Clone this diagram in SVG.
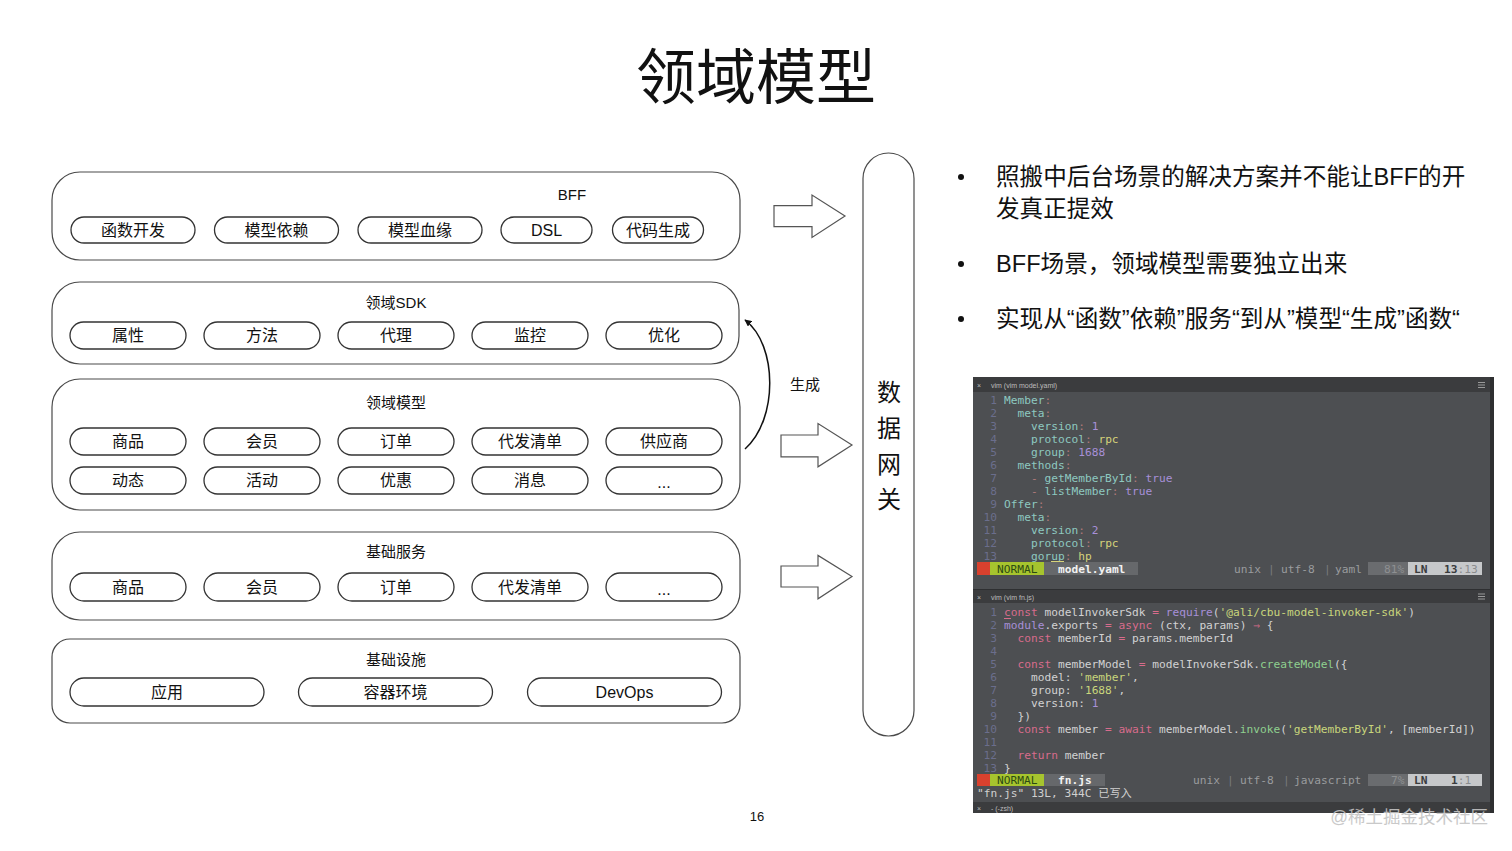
<svg xmlns="http://www.w3.org/2000/svg" width="1512" height="851" viewBox="0 0 1512 851">
<style>
.box{fill:#fff;stroke:#4a4a4a;stroke-width:1.2}
.pill{fill:#fff;stroke:#333;stroke-width:1.3}
.t{font-family:"Liberation Sans","Noto Sans CJK SC",sans-serif;fill:#111;text-anchor:middle}
.pt{font-size:16px}
.lt{font-size:15px}
.barr{fill:#fff;stroke:#555;stroke-width:1.2}
.bul{font-family:"Liberation Sans","Noto Sans CJK SC",sans-serif;font-size:23.6px;fill:#111}
.code{font-family:"DejaVu Sans Mono","Liberation Mono","Noto Sans CJK SC",monospace;font-size:11.2px;fill:#d2d2d2}
.ln{fill:#6b6e8c;text-anchor:end}
.k{fill:#8ec9c0}.p{fill:#b07a7a}.n{fill:#a890d8}.s{fill:#d6d27a}.kw{fill:#d86c8c}.g{fill:#8fcf8f}.st{fill:#c9d67c}
.tb{font-family:"Liberation Sans",sans-serif;font-size:7px;fill:#bdbdbd}
</style>
<defs>
<marker id="ah" viewBox="0 0 10 10" refX="9" refY="5" markerWidth="7" markerHeight="7" orient="auto" markerUnits="userSpaceOnUse">
<path d="M0,0 L10,5 L0,10 Z" fill="#111"/>
</marker>
</defs>
<rect width="1512" height="851" fill="#fff"/>
<text x="756" y="99" class="t" style="font-size:60px;font-weight:400">领域模型</text>

<g id="bff">
<rect class="box" x="52" y="172" width="688" height="88" rx="28"/>
<text class="t lt" x="572" y="199.5">BFF</text>
<rect class="pill" x="71" y="217" width="124" height="26" rx="13"/><text class="t pt" x="133" y="235.8">函数开发</text>
<rect class="pill" x="214.5" y="217" width="124" height="26" rx="13"/><text class="t pt" x="276.5" y="235.8">模型依赖</text>
<rect class="pill" x="358" y="217" width="124" height="26" rx="13"/><text class="t pt" x="420" y="235.8">模型血缘</text>
<rect class="pill" x="501" y="217" width="91" height="26" rx="13"/><text class="t pt" x="546.5" y="235.8">DSL</text>
<rect class="pill" x="612.5" y="217" width="91" height="26" rx="13"/><text class="t pt" x="658" y="235.8">代码生成</text>
</g>

<g id="sdk">
<rect class="box" x="52" y="282" width="687" height="82" rx="28"/>
<text class="t lt" x="396" y="307.5">领域SDK</text>
<rect class="pill" x="70" y="322" width="116" height="27" rx="13.5"/><text class="t pt" x="128" y="341.3">属性</text>
<rect class="pill" x="204" y="322" width="116" height="27" rx="13.5"/><text class="t pt" x="262" y="341.3">方法</text>
<rect class="pill" x="338" y="322" width="116" height="27" rx="13.5"/><text class="t pt" x="396" y="341.3">代理</text>
<rect class="pill" x="472" y="322" width="116" height="27" rx="13.5"/><text class="t pt" x="530" y="341.3">监控</text>
<rect class="pill" x="606" y="322" width="116" height="27" rx="13.5"/><text class="t pt" x="664" y="341.3">优化</text>
</g>

<g id="model">
<rect class="box" x="52" y="379" width="688" height="131" rx="28"/>
<text class="t lt" x="396" y="407.5">领域模型</text>
<rect class="pill" x="70" y="428" width="116" height="27" rx="13.5"/><text class="t pt" x="128" y="447.3">商品</text>
<rect class="pill" x="204" y="428" width="116" height="27" rx="13.5"/><text class="t pt" x="262" y="447.3">会员</text>
<rect class="pill" x="338" y="428" width="116" height="27" rx="13.5"/><text class="t pt" x="396" y="447.3">订单</text>
<rect class="pill" x="472" y="428" width="116" height="27" rx="13.5"/><text class="t pt" x="530" y="447.3">代发清单</text>
<rect class="pill" x="606" y="428" width="116" height="27" rx="13.5"/><text class="t pt" x="664" y="447.3">供应商</text>
<rect class="pill" x="70" y="467" width="116" height="27" rx="13.5"/><text class="t pt" x="128" y="486.3">动态</text>
<rect class="pill" x="204" y="467" width="116" height="27" rx="13.5"/><text class="t pt" x="262" y="486.3">活动</text>
<rect class="pill" x="338" y="467" width="116" height="27" rx="13.5"/><text class="t pt" x="396" y="486.3">优惠</text>
<rect class="pill" x="472" y="467" width="116" height="27" rx="13.5"/><text class="t pt" x="530" y="486.3">消息</text>
<rect class="pill" x="606" y="467" width="116" height="27" rx="13.5"/><text class="t pt" x="664" y="488">...</text>
</g>

<g id="service">
<rect class="box" x="52" y="532" width="688" height="88" rx="28"/>
<text class="t lt" x="396" y="556.5">基础服务</text>
<rect class="pill" x="70" y="573" width="116" height="28" rx="14"/><text class="t pt" x="128" y="592.8">商品</text>
<rect class="pill" x="204" y="573" width="116" height="28" rx="14"/><text class="t pt" x="262" y="592.8">会员</text>
<rect class="pill" x="338" y="573" width="116" height="28" rx="14"/><text class="t pt" x="396" y="592.8">订单</text>
<rect class="pill" x="472" y="573" width="116" height="28" rx="14"/><text class="t pt" x="530" y="592.8">代发清单</text>
<rect class="pill" x="606" y="573" width="116" height="28" rx="14"/><text class="t pt" x="664" y="594.5">...</text>
</g>

<g id="infra">
<rect class="box" x="52" y="639" width="688" height="84" rx="18"/>
<text class="t lt" x="396" y="664.5">基础设施</text>
<rect class="pill" x="70" y="678" width="194" height="28" rx="14"/><text class="t pt" x="167" y="697.8">应用</text>
<rect class="pill" x="298.5" y="678" width="194" height="28" rx="14"/><text class="t pt" x="395.5" y="697.8">容器环境</text>
<rect class="pill" x="527.5" y="678" width="194" height="28" rx="14"/><text class="t pt" x="624.5" y="697.8">DevOps</text>
</g>

<g id="gateway">
<rect class="box" x="863" y="153" width="51" height="583" rx="25.5"/>
<text class="t" style="font-size:24px" x="889" y="401">数</text>
<text class="t" style="font-size:24px" x="889" y="437">据</text>
<text class="t" style="font-size:24px" x="889" y="473">网</text>
<text class="t" style="font-size:24px" x="889" y="508">关</text>
</g>

<g id="connectors">
<path class="barr" d="M774,205.6 H812 V195 L845,216 L812,237.5 V226.7 H774 Z"/>
<path class="barr" d="M781,435 H818 V423.5 L852,445 L818,466.8 V456.9 H781 Z"/>
<path class="barr" d="M781,566 H818 V555.4 L852,576.5 L818,598.8 V587 H781 Z"/>
<path d="M745,449 C778,420 778,345 745,320" fill="none" stroke="#111" stroke-width="1.5" marker-end="url(#ah)"/>
<text class="t" style="font-size:15px" x="805" y="390">生成</text>
</g>

<g id="bullets">
<circle cx="961" cy="177" r="3" fill="#111"/>
<circle cx="961" cy="264" r="3" fill="#111"/>
<circle cx="961" cy="319" r="3" fill="#111"/>
<text class="bul" x="996" y="184.5">照搬中后台场景的解决方案并不能让BFF的开</text>
<text class="bul" x="996" y="216.5">发真正提效</text>
<text class="bul" x="996" y="271.5">BFF场景，领域模型需要独立出来</text>
<text class="bul" x="996" y="326.5">实现从“函数”依赖”服务“到从”模型“生成”函数“</text>
</g>

<g id="terminal">
<rect x="973" y="377" width="521" height="436" fill="#4d4f52"/>
<rect x="1490" y="377" width="4" height="436" fill="#2e2f31"/>
<rect x="973" y="377" width="517" height="15" fill="#3b3c3e"/>
<text class="tb" x="977" y="387.5" fill="#888">×</text>
<text class="tb" x="991" y="387.5">vim (vim model.yaml)</text>
<g fill="#9a9a9a"><rect x="1478" y="382" width="7" height="1"/><rect x="1478" y="384.5" width="7" height="1"/><rect x="1478" y="387" width="7" height="1"/></g>

<g class="code">
<text class="ln" x="997" y="404">1</text><text class="ln" x="997" y="417">2</text><text class="ln" x="997" y="430">3</text><text class="ln" x="997" y="443">4</text><text class="ln" x="997" y="456">5</text><text class="ln" x="997" y="469">6</text><text class="ln" x="997" y="482">7</text><text class="ln" x="997" y="495">8</text><text class="ln" x="997" y="508">9</text><text class="ln" x="997" y="521">10</text><text class="ln" x="997" y="534">11</text><text class="ln" x="997" y="547">12</text><text class="ln" x="997" y="560">13</text>
<text x="1004" y="404"><tspan class="k">Member</tspan><tspan class="p">:</tspan></text>
<text x="1017.5" y="417"><tspan class="k">meta</tspan><tspan class="p">:</tspan></text>
<text x="1031" y="430"><tspan class="k">version</tspan><tspan class="p">:</tspan> <tspan class="n">1</tspan></text>
<text x="1031" y="443"><tspan class="k">protocol</tspan><tspan class="p">:</tspan> <tspan class="s">rpc</tspan></text>
<text x="1031" y="456"><tspan class="k">group</tspan><tspan class="p">:</tspan> <tspan class="n">1688</tspan></text>
<text x="1017.5" y="469"><tspan class="k">methods</tspan><tspan class="p">:</tspan></text>
<text x="1031" y="482"><tspan class="p">-</tspan> <tspan class="k">getMemberById</tspan><tspan class="p">:</tspan> <tspan class="n">true</tspan></text>
<text x="1031" y="495"><tspan class="p">-</tspan> <tspan class="k">listMember</tspan><tspan class="p">:</tspan> <tspan class="n">true</tspan></text>
<text x="1004" y="508"><tspan class="k">Offer</tspan><tspan class="p">:</tspan></text>
<text x="1017.5" y="521"><tspan class="k">meta</tspan><tspan class="p">:</tspan></text>
<text x="1031" y="534"><tspan class="k">version</tspan><tspan class="p">:</tspan> <tspan class="n">2</tspan></text>
<text x="1031" y="547"><tspan class="k">protocol</tspan><tspan class="p">:</tspan> <tspan class="s">rpc</tspan></text>
<text x="1031" y="560"><tspan class="k">gorup</tspan><tspan class="p">:</tspan> <tspan class="s">hp</tspan></text>
</g>
<rect x="1051" y="561" width="13" height="1" fill="#d6d27a"/>

<rect x="977" y="562" width="13" height="13" fill="#d9412e"/>
<rect x="990" y="562" width="54" height="13" fill="#a6c42e"/>
<rect x="1044" y="562" width="94" height="13" fill="#66686b"/>
<rect x="1368" y="562" width="40" height="13" fill="#6a6c6f"/>
<rect x="1408" y="562" width="74" height="13" fill="#c6c8ca"/>
<g class="code">
<text x="997" y="572.5" fill="#2c4a12">NORMAL</text>
<text x="1058" y="572.5" fill="#f2f2f2" font-weight="bold">model.yaml</text>
<text x="1234" y="572.5" fill="#9a9c9e">unix</text><text x="1268" y="572.5" fill="#7a7c7e">|</text>
<text x="1281" y="572.5" fill="#9a9c9e">utf-8</text><text x="1324" y="572.5" fill="#7a7c7e">|</text>
<text x="1335" y="572.5" fill="#9a9c9e">yaml</text>
<text x="1384" y="572.5" fill="#8e9092">81%</text>
<text x="1414" y="572.5" fill="#3a3c3e" font-weight="bold">LN</text>
<text x="1444" y="572.5" fill="#3a3c3e" font-weight="bold">13<tspan fill="#8a8c8e" font-weight="normal">:13</tspan></text>
</g>

<rect x="973" y="589" width="517" height="1" fill="#2e2f31"/>
<rect x="973" y="590" width="517" height="13" fill="#3b3c3e"/>
<text class="tb" x="977" y="599.5" fill="#888">×</text>
<text class="tb" x="991" y="599.5">vim (vim fn.js)</text>
<g fill="#9a9a9a"><rect x="1478" y="593.5" width="7" height="1"/><rect x="1478" y="596" width="7" height="1"/><rect x="1478" y="598.5" width="7" height="1"/></g>

<g class="code">
<text class="ln" x="997" y="616">1</text><text class="ln" x="997" y="629">2</text><text class="ln" x="997" y="642">3</text><text class="ln" x="997" y="655">4</text><text class="ln" x="997" y="668">5</text><text class="ln" x="997" y="681">6</text><text class="ln" x="997" y="694">7</text><text class="ln" x="997" y="707">8</text><text class="ln" x="997" y="720">9</text><text class="ln" x="997" y="733">10</text><text class="ln" x="997" y="746">11</text><text class="ln" x="997" y="759">12</text><text class="ln" x="997" y="772">13</text>
<text x="1004" y="616"><tspan class="kw">const</tspan> modelInvokerSdk <tspan class="kw">=</tspan> <tspan class="n">require</tspan>(<tspan class="st">'@ali/cbu-model-invoker-sdk'</tspan>)</text>
<text x="1004" y="629"><tspan class="n">module</tspan>.exports <tspan class="kw">=</tspan> <tspan class="kw">async</tspan> (ctx, params) <tspan class="kw">⇒</tspan> {</text>
<text x="1017.5" y="642"><tspan class="kw">const</tspan> memberId <tspan class="kw">=</tspan> params.memberId</text>
<text x="1017.5" y="668"><tspan class="kw">const</tspan> memberModel <tspan class="kw">=</tspan> modelInvokerSdk.<tspan class="g">createModel</tspan>({</text>
<text x="1031" y="681">model: <tspan class="st">'member'</tspan>,</text>
<text x="1031" y="694">group: <tspan class="st">'1688'</tspan>,</text>
<text x="1031" y="707">version: <tspan class="n">1</tspan></text>
<text x="1017.5" y="720">})</text>
<text x="1017.5" y="733"><tspan class="kw">const</tspan> member <tspan class="kw">=</tspan> <tspan class="kw">await</tspan> memberModel.<tspan class="g">invoke</tspan>(<tspan class="st">'getMemberById'</tspan>, [memberId])</text>
<text x="1017.5" y="759"><tspan class="kw">return</tspan> member</text>
<text x="1004" y="772">}</text>
</g>
<rect x="1004" y="618" width="7" height="1" fill="#d86c8c"/>

<rect x="977" y="774" width="13" height="12" fill="#d9412e"/>
<rect x="990" y="774" width="54" height="12" fill="#a6c42e"/>
<rect x="1044" y="774" width="61" height="12" fill="#66686b"/>
<rect x="1368" y="774" width="40" height="12" fill="#6a6c6f"/>
<rect x="1408" y="774" width="74" height="12" fill="#c6c8ca"/>
<g class="code">
<text x="997" y="784" fill="#2c4a12">NORMAL</text>
<text x="1058" y="784" fill="#f2f2f2" font-weight="bold">fn.js</text>
<text x="1193" y="784" fill="#9a9c9e">unix</text><text x="1227" y="784" fill="#7a7c7e">|</text>
<text x="1240" y="784" fill="#9a9c9e">utf-8</text><text x="1283" y="784" fill="#7a7c7e">|</text>
<text x="1294" y="784" fill="#9a9c9e">javascript</text>
<text x="1391" y="784" fill="#8e9092">7%</text>
<text x="1414" y="784" fill="#3a3c3e" font-weight="bold">LN</text>
<text x="1451" y="784" fill="#3a3c3e" font-weight="bold">1<tspan fill="#8a8c8e" font-weight="normal">:1</tspan></text>
<text x="977" y="797" fill="#d0d0d0">"fn.js" 13L, 344C 已写入</text>
</g>
<rect x="973" y="802" width="517" height="11" fill="#3b3c3e"/>
<text class="tb" x="977" y="810.5" fill="#888">×</text>
<text class="tb" x="991" y="810.5">- (-zsh)</text>
</g>

<text x="757" y="821" class="t" style="font-size:13px">16</text>
<text x="1488" y="823" style="font-family:'Liberation Sans','Noto Sans CJK SC',sans-serif;font-size:17.5px;fill:#c4c4c4;text-anchor:end;opacity:0.9">@稀土掘金技术社区</text>
</svg>
